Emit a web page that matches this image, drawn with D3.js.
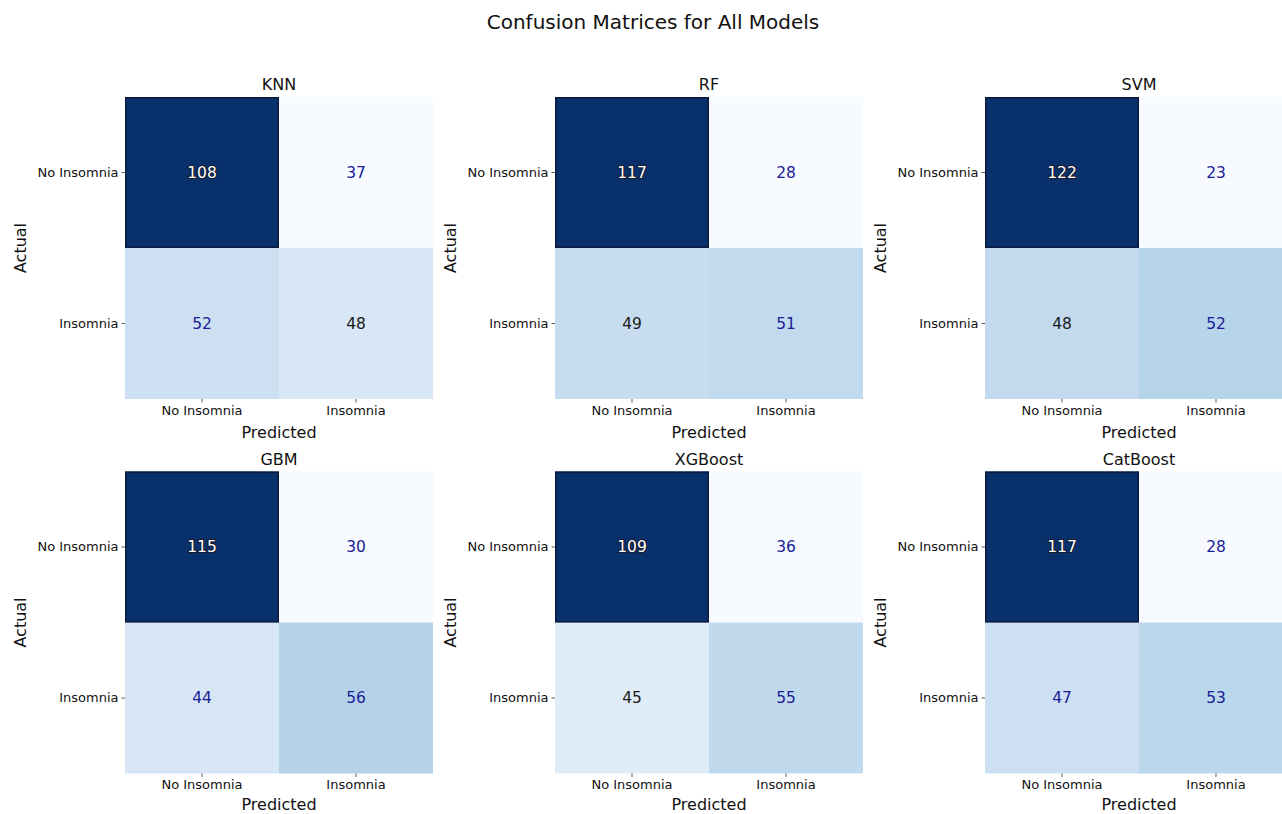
<!DOCTYPE html>
<html>
<head>
<meta charset="utf-8">
<script src="https://cdn.jsdelivr.net/npm/d3@7"></script>
<style>
  html, body { margin: 0; padding: 0; background: #fff; }
  svg { display: block; font-family: "DejaVu Sans", sans-serif; }
</style>
</head>
<body>
<svg id="chart" width="1282" height="814"></svg>
<script>
// Confusion matrices, one per model: [[TN, FP], [FN, TP]]
const models = ["KNN", "RF", "SVM", "GBM", "XGBoost", "CatBoost"];
const classLabels = ["No Insomnia", "Insomnia"];
const knn      = [[108, 37], [52, 48]];
const rf       = [[117, 28], [49, 51]];
const svm      = [[122, 23], [48, 52]];
const gbm      = [[115, 30], [44, 56]];
const xgboost  = [[109, 36], [45, 55]];
const catboost = [[117, 28], [47, 53]];
const matrices = [knn, rf, svm, gbm, xgboost, catboost];
// annotation ink per cell: "w" light, "b" blue, "k" black
const annotInk = [
  [["w", "b"], ["b", "k"]],
  [["w", "b"], ["k", "b"]],
  [["w", "b"], ["k", "b"]],
  [["w", "b"], ["b", "b"]],
  [["w", "b"], ["k", "b"]],
  [["w", "b"], ["b", "b"]]
];

const svg = d3.select("#chart");
const panelW = 308, panelH = 302;
const colX = [125, 555, 985];
const rowY = [97, 471.5];
// gap between the heatmap bottom and the "Predicted" baseline, per grid row
const xLabelGap = [38.5, 36];

svg.append("text")
  .attr("x", 653).attr("y", 29)
  .attr("text-anchor", "middle")
  .attr("font-size", 20).attr("fill", "#111")
  .text("Confusion Matrices for All Models");

const inkColor = { w: "#ffffff", b: "#1c1c96", k: "#1a1a1a" };

models.forEach((name, i) => {
  const m = matrices[i];
  const row = Math.floor(i / 3);
  const x0 = colX[i % 3], y0 = rowY[row];
  const g = svg.append("g").attr("transform", `translate(${x0},${y0})`);

  const x = d3.scaleBand().domain(classLabels).range([0, panelW]);
  const y = d3.scaleBand().domain(classLabels).range([0, panelH]);
  const flat = m.flat();
  const color = d3.scaleSequential(d3.interpolateBlues)
    .domain([d3.min(flat), d3.max(flat)]);

  const cells = [];
  m.forEach((rw, r) => rw.forEach((v, c) => cells.push({ r, c, v })));

  g.selectAll("rect.cell").data(cells).enter().append("rect")
    .attr("class", "cell")
    .attr("x", d => x(classLabels[d.c]))
    .attr("y", d => y(classLabels[d.r]))
    .attr("width", x.bandwidth())
    .attr("height", y.bandwidth())
    .attr("fill", d => color(d.v));

  // outline the darkest cell
  const top = cells.find(d => d.v === d3.max(flat));
  g.append("rect")
    .attr("x", x(classLabels[top.c]) + 0.75)
    .attr("y", y(classLabels[top.r]) + 0.75)
    .attr("width", x.bandwidth() - 1.5)
    .attr("height", y.bandwidth() - 1.5)
    .attr("fill", "none")
    .attr("stroke", "#0b1a3c").attr("stroke-width", 1.5);

  g.selectAll("text.val").data(cells).enter().append("text")
    .attr("class", "val")
    .attr("x", d => x(classLabels[d.c]) + x.bandwidth() / 2)
    .attr("y", d => y(classLabels[d.r]) + y.bandwidth() / 2)
    .attr("dy", "0.35em")
    .attr("text-anchor", "middle")
    .attr("font-size", 15.5)
    .attr("fill", d => inkColor[annotInk[i][d.r][d.c]])
    .attr("stroke", d => annotInk[i][d.r][d.c] === "w" ? "#1a1a2a" : "none")
    .attr("stroke-width", 2)
    .attr("paint-order", "stroke")
    .text(d => d.v);

  const xAxis = g.append("g")
    .attr("transform", `translate(0,${panelH})`)
    .call(d3.axisBottom(x).tickSize(3.5).tickPadding(3));
  const yAxis = g.append("g")
    .call(d3.axisLeft(y).tickSize(3.5).tickPadding(3));
  [xAxis, yAxis].forEach(a => {
    a.select(".domain").remove();
    a.selectAll("text").attr("font-size", 13).attr("fill", "#111")
      .attr("font-family", "DejaVu Sans, sans-serif");
    a.selectAll("line").attr("stroke", "#333").attr("stroke-width", 0.8);
  });

  g.append("text")
    .attr("x", panelW / 2).attr("y", -7)
    .attr("text-anchor", "middle")
    .attr("font-size", 16).attr("fill", "#111")
    .text(name);

  g.append("text")
    .attr("x", panelW / 2).attr("y", panelH + xLabelGap[row])
    .attr("text-anchor", "middle")
    .attr("font-size", 16).attr("fill", "#111")
    .text("Predicted");

  g.append("text")
    .attr("transform", `translate(${-99},${panelH / 2}) rotate(-90)`)
    .attr("text-anchor", "middle")
    .attr("font-size", 16).attr("fill", "#111")
    .text("Actual");
});
</script>
</body>
</html>
